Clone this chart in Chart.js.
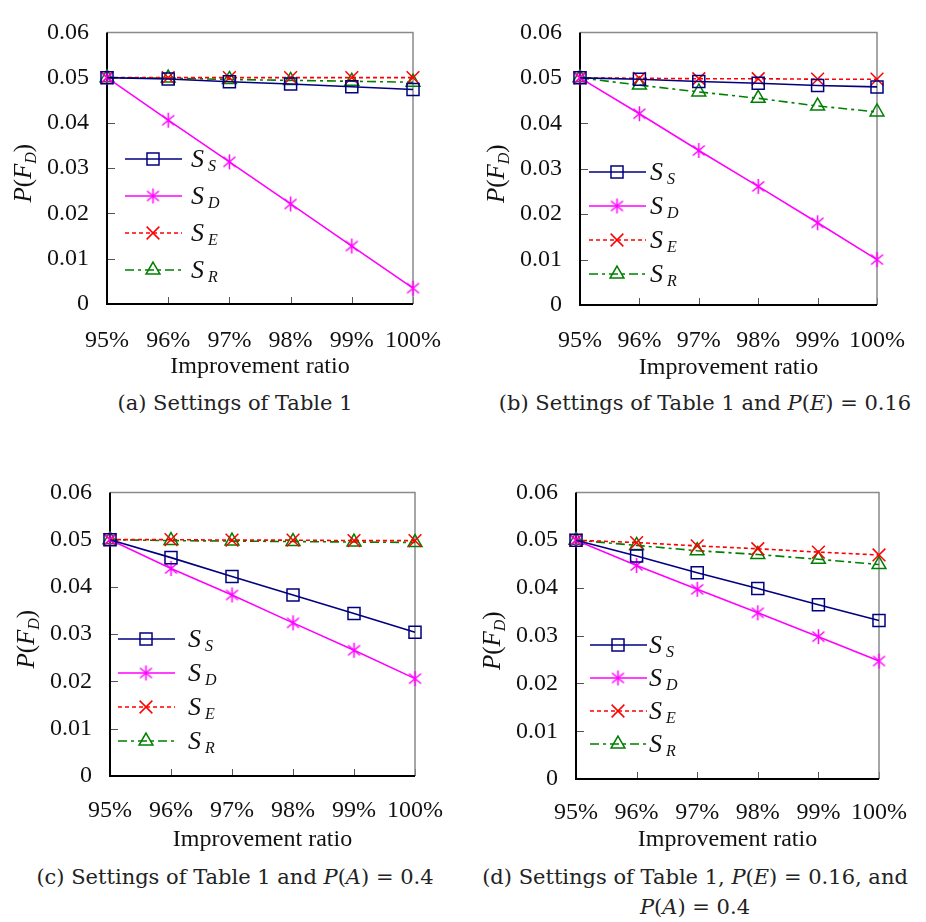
<!DOCTYPE html>
<html>
<head>
<meta charset="utf-8">
<script src="https://cdn.jsdelivr.net/npm/chart.js@4.4.0/dist/chart.umd.min.js"></script>
<style>
  body { margin: 0; background: #fff; width: 926px; height: 922px; position: relative; overflow: hidden; }
  .panel { position: absolute; }
  .cap { position: absolute; font-family: 'DejaVu Serif', serif; font-size: 21px; color: #222; text-align: center;
         white-space: nowrap; transform: translateX(-50%); line-height: 30px; }
  .cap i { font-style: italic; }
</style>
</head>
<body>
<div class="panel" id="pa"><canvas id="ca"></canvas></div>
<div class="panel" id="pb"><canvas id="cb"></canvas></div>
<div class="panel" id="pc"><canvas id="cc"></canvas></div>
<div class="panel" id="pd"><canvas id="cd"></canvas></div>

<div class="cap" style="left:235px;top:388px">(a) Settings of Table 1</div>
<div class="cap" style="left:705px;top:388px">(b) Settings of Table 1 and <i>P</i>(<i>E</i>) = 0.16</div>
<div class="cap" style="left:235px;top:862px">(c) Settings of Table 1 and <i>P</i>(<i>A</i>) = 0.4</div>
<div class="cap" style="left:695px;top:862px">(d) Settings of Table 1, <i>P</i>(<i>E</i>) = 0.16, and<br><i>P</i>(<i>A</i>) = 0.4</div>

<script>
const categories = ['95%', '96%', '97%', '98%', '99%', '100%'];
const subNames = ['S', 'D', 'E', 'R'];

// (a) Settings of Table 1
const aSS = [0.05, 0.0497, 0.0491, 0.0486, 0.0480, 0.0474];
const aSD = [0.05, 0.0406, 0.0314, 0.0221, 0.0128, 0.0035];
const aSE = [0.05, 0.0500, 0.0500, 0.0500, 0.0500, 0.0500];
const aSR = [0.05, 0.0499, 0.0496, 0.0494, 0.0492, 0.0490];

// (b) P(E) = 0.16
const bSS = [0.05, 0.0497, 0.0492, 0.0488, 0.0483, 0.0480];
const bSD = [0.05, 0.0421, 0.0340, 0.0261, 0.0181, 0.0100];
const bSE = [0.05, 0.0499, 0.0498, 0.0498, 0.0497, 0.0497];
const bSR = [0.05, 0.0484, 0.0469, 0.0455, 0.0438, 0.0425];

// (c) P(A) = 0.4
const cSS = [0.05, 0.0462, 0.0422, 0.0383, 0.0344, 0.0304];
const cSD = [0.05, 0.0439, 0.0383, 0.0324, 0.0266, 0.0206];
const cSE = [0.05, 0.0500, 0.0499, 0.0499, 0.0498, 0.0498];
const cSR = [0.05, 0.0498, 0.0497, 0.0496, 0.0495, 0.0494];

// (d) P(E) = 0.16, P(A) = 0.4
const dSS = [0.05, 0.0467, 0.0432, 0.0399, 0.0365, 0.0332];
const dSD = [0.05, 0.0447, 0.0397, 0.0348, 0.0298, 0.0247];
const dSE = [0.05, 0.0495, 0.0488, 0.0482, 0.0475, 0.0469];
const dSR = [0.05, 0.0489, 0.0478, 0.0470, 0.0460, 0.0449];

const FONT = "'Liberation Serif', 'Times New Roman', Times, serif";

// excel-like asterisk marker
function makeStar(color) {
  const c = document.createElement('canvas');
  c.width = 17; c.height = 17;
  const g = c.getContext('2d');
  g.strokeStyle = color; g.lineWidth = 1.5;
  g.beginPath();
  g.moveTo(8.5, 1); g.lineTo(8.5, 16);
  g.moveTo(2.5, 3.5); g.lineTo(14.5, 13.5);
  g.moveTo(14.5, 3.5); g.lineTo(2.5, 13.5);
  g.stroke();
  return c;
}
const starImg = makeStar('#ff00ff');

const styles = [
  { color: '#000080', dash: [], point: 'rect', radius: 8.5 },
  { color: '#ff00ff', dash: [], point: starImg, radius: 8 },
  { color: '#ff0000', dash: [4, 3], point: 'crossRot', radius: 9 },
  { color: '#008000', dash: [9, 4, 3, 4], point: 'triangle', radius: 8 }
];

const panels = [
  { id: 'ca', div: 'pa', left: 0,   top: 0,   area: { l: 107, t: 14, r: 429, b: 304 }, tickGap: 36, titleGap: 63,
    legend: { x: 125, y: 159, dy: 37, tx: 66 }, series: [aSS, aSD, aSE, aSR] },
  { id: 'cb', div: 'pb', left: 463, top: 0,   area: { l: 117, t: 14, r: 435, b: 305 }, tickGap: 35, titleGap: 63,
    legend: { x: 126, y: 172, dy: 34, tx: 61 }, series: [bSS, bSD, bSE, bSR] },
  { id: 'cc', div: 'pc', left: 0,   top: 460, area: { l: 110, t: 29, r: 428, b: 316 }, tickGap: 34, titleGap: 64,
    legend: { x: 118, y: 179, dy: 34, tx: 70 }, series: [cSS, cSD, cSE, cSR] },
  { id: 'cd', div: 'pd', left: 463, top: 460, area: { l: 113, t: 27, r: 417, b: 319 }, tickGap: 33, titleGap: 61,
    legend: { x: 127, y: 185, dy: 33, tx: 59 }, series: [dSS, dSD, dSE, dSR] }
];

function drawMarker(ctx, style, x, y) {
  ctx.save();
  ctx.strokeStyle = style.color;
  ctx.lineWidth = 1.5;
  ctx.setLineDash([]);
  const r = style.radius;
  if (style.point === 'rect') {
    const s = r * Math.SQRT1_2;
    ctx.strokeRect(x - s, y - s, 2 * s, 2 * s);
  } else if (style.point === 'crossRot') {
    const s = r * Math.SQRT1_2;
    ctx.beginPath();
    ctx.moveTo(x - s, y - s); ctx.lineTo(x + s, y + s);
    ctx.moveTo(x + s, y - s); ctx.lineTo(x - s, y + s);
    ctx.stroke();
  } else if (style.point === 'triangle') {
    ctx.beginPath();
    ctx.moveTo(x, y - r);
    ctx.lineTo(x + r * Math.sin(Math.PI * 2 / 3), y - r * Math.cos(Math.PI * 2 / 3));
    ctx.lineTo(x - r * Math.sin(Math.PI * 2 / 3), y - r * Math.cos(Math.PI * 2 / 3));
    ctx.closePath();
    ctx.stroke();
  } else {
    ctx.drawImage(style.point, x - style.point.width / 2, y - style.point.height / 2);
  }
  ctx.restore();
}

const decor = {
  id: 'decor',
  beforeDatasetsDraw(chart) {
    const { ctx, chartArea: a, scales } = chart;
    ctx.save();
    // inward tick marks
    ctx.strokeStyle = '#555';
    ctx.lineWidth = 1;
    ctx.beginPath();
    scales.y.ticks.forEach(t => {
      const py = Math.round(scales.y.getPixelForValue(t.value)) + 0.5;
      ctx.moveTo(a.left, py); ctx.lineTo(a.left + 8, py);
    });
    scales.x.ticks.forEach((t, i) => {
      const px = Math.round(scales.x.getPixelForTick(i)) + 0.5;
      ctx.moveTo(px, a.bottom); ctx.lineTo(px, a.bottom - 7);
    });
    ctx.stroke();
    // frame: top/right gray, left/bottom black
    ctx.strokeStyle = '#8a8a8a';
    ctx.lineWidth = 1.5;
    ctx.beginPath();
    ctx.moveTo(a.left, a.top); ctx.lineTo(a.right, a.top); ctx.lineTo(a.right, a.bottom);
    ctx.stroke();
    ctx.strokeStyle = '#000';
    ctx.lineWidth = 2;
    ctx.beginPath();
    ctx.moveTo(a.left, a.top); ctx.lineTo(a.left, a.bottom); ctx.lineTo(a.right, a.bottom);
    ctx.stroke();
    ctx.restore();
  },
  afterDraw(chart) {
    const { ctx, chartArea: a } = chart;
    const lg = chart.options.plugins.decor.legend;
    ctx.save();
    // y-axis title P(F_D)
    ctx.translate(a.left - 84, (a.top + a.bottom) / 2 + 5);
    ctx.rotate(-Math.PI / 2);
    ctx.fillStyle = '#111';
    ctx.textBaseline = 'alphabetic';
    const parts = [
      ['P', 'italic 25px ' + FONT, 0], ['(', '25px ' + FONT, 0], ['F', 'italic 25px ' + FONT, 0],
      ['D', 'italic 16px ' + FONT, 5], [')', '25px ' + FONT, 0]
    ];
    let w = 0;
    parts.forEach(p => { ctx.font = p[1]; w += ctx.measureText(p[0]).width; });
    let cx = -w / 2;
    parts.forEach(p => { ctx.font = p[1]; ctx.fillText(p[0], cx, 8 + p[2]); cx += ctx.measureText(p[0]).width; });
    ctx.restore();

    // legend
    ctx.save();
    chart.data.datasets.forEach((ds, i) => {
      const st = styles[i];
      const y = lg.y + i * lg.dy;
      ctx.strokeStyle = st.color;
      ctx.lineWidth = 1.6;
      ctx.setLineDash(st.dash);
      ctx.beginPath();
      ctx.moveTo(lg.x, y); ctx.lineTo(lg.x + 57, y);
      ctx.stroke();
      drawMarker(ctx, st, lg.x + 28, y);
      ctx.fillStyle = '#111';
      ctx.textBaseline = 'alphabetic';
      ctx.font = 'italic 26px ' + FONT;
      const tx = lg.x + lg.tx;
      ctx.fillText('S', tx, y + 8);
      const sw = ctx.measureText('S').width;
      ctx.font = 'italic 16px ' + FONT;
      ctx.fillText(subNames[i], tx + sw + 4, y + 12);
    });
    ctx.restore();
  }
};

panels.forEach(p => {
  const H = Math.round(p.area.b + p.titleGap + 14.4);
  const W = 463;
  const div = document.getElementById(p.div);
  div.style.left = p.left + 'px';
  div.style.top = p.top + 'px';
  const cv = document.getElementById(p.id);
  cv.width = W; cv.height = H;
  cv.style.width = W + 'px'; cv.style.height = H + 'px';

  const datasets = p.series.map((data, i) => ({
    label: 'S' + subNames[i],
    data: data,
    borderColor: styles[i].color,
    backgroundColor: 'rgba(0,0,0,0)',
    borderWidth: 1.6,
    borderDash: styles[i].dash,
    pointStyle: styles[i].point,
    pointRadius: styles[i].radius,
    pointBorderWidth: 1.5,
    pointBorderColor: styles[i].color,
    pointBackgroundColor: 'rgba(0,0,0,0)',
    tension: 0,
    clip: false
  }));

  new Chart(cv, {
    type: 'line',
    data: { labels: categories, datasets: datasets },
    options: {
      responsive: false,
      animation: false,
      devicePixelRatio: 1,
      layout: { padding: { top: p.area.t, right: W - p.area.r, left: 0, bottom: 0 } },
      plugins: {
        legend: { display: false },
        tooltip: { enabled: false },
        decor: { legend: p.legend }
      },
      scales: {
        x: {
          offset: false,
          grid: { display: false, drawTicks: false },
          border: { display: false },
          ticks: {
            color: '#111',
            font: { family: FONT, size: 24 },
            padding: p.tickGap - 14,
            maxRotation: 0,
            autoSkip: false
          },
          title: {
            display: true,
            text: 'Improvement ratio',
            color: '#111',
            font: { family: FONT, size: 24 },
            padding: { top: 0, bottom: 0 }
          },
          afterFit: s => { s.height = H - p.area.b; }
        },
        y: {
          min: 0,
          max: 0.06,
          grid: { display: false, drawTicks: false },
          border: { display: false },
          ticks: {
            stepSize: 0.01,
            color: '#111',
            font: { family: FONT, size: 24 },
            padding: 18,
            callback: v => (Math.abs(v) < 1e-9 ? '0' : v.toFixed(2))
          },
          afterFit: s => { s.width = p.area.l; }
        }
      }
    },
    plugins: [decor]
  });
});
</script>
</body>
</html>
